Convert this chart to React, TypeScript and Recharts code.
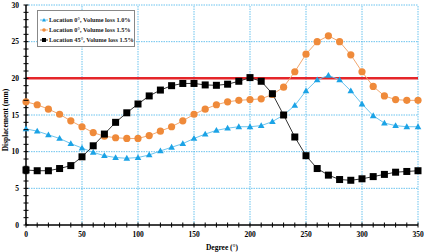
import { LineChart, Line, XAxis, YAxis, ReferenceLine } from 'recharts'

const degrees = [
  0, 10, 20, 30, 40, 50, 60, 70, 80, 90, 100, 110, 120, 130, 140, 150, 160, 170,
  180, 190, 200, 210, 220, 230, 240, 250, 260, 270, 280, 290, 300, 310, 320, 330, 340, 350,
]

// Location 0°, Volume loss 1.0%
const loc0vl10 = [
  13.1, 12.8, 12.3, 11.8, 11.1, 10.5, 9.9, 9.45, 9.2, 9.1, 9.2, 9.55, 10.1, 10.6, 11.1, 11.8, 12.4, 12.9,
  13.2, 13.4, 13.4, 13.55, 14.1, 15.0, 16.3, 18.3, 19.8, 20.4, 19.8, 18.3, 16.5, 14.9, 13.9, 13.55, 13.4, 13.4,
]

// Location 0°, Volume loss 1.5%
const loc0vl15 = [
  16.8, 16.4, 15.8, 15.1, 14.2, 13.4, 12.6, 12.1, 11.9, 11.8, 11.8, 12.2, 12.8, 13.4, 14.2, 15.1, 15.8, 16.4,
  16.8, 17.0, 17.1, 17.2, 17.8, 18.8, 20.9, 23.3, 25.0, 25.8, 25.0, 23.2, 20.9, 18.9, 17.6, 17.1, 17.0, 17.0,
]

// Location 45°, Volume loss 1.5%
const loc45vl15 = [
  7.5, 7.4, 7.4, 7.7, 8.1, 9.3, 10.8, 12.4, 14.0, 15.3, 16.5, 17.6, 18.4, 19.0, 19.3, 19.3, 19.1, 19.05,
  19.2, 19.6, 20.1, 19.6, 17.9, 15.0, 12.0, 9.45, 7.7, 6.8, 6.2, 6.1, 6.3, 6.6, 6.9, 7.2, 7.3, 7.4,
]

const xTicks = degrees
const yTicks = Array.from({ length: 31 }, (_, i) => i)
const xGrid = [50, 100, 150, 200, 250, 300, 350]
const yGrid = [5, 10, 15, 20, 25, 30]
const limit = 20

const BLUE = '#1ba3e6'
const ORANGE = '#ef8a3a'
const FONT = '"Liberation Serif", "DejaVu Serif", serif'

const data = degrees.map((d, i) => ({
  deg: d,
  a: loc0vl10[i],
  b: loc0vl15[i],
  c: loc45vl15[i],
}))

function XTick({ x, y, payload }: any) {
  const v = payload.value
  return (
    <g>
      <line x1={x} x2={x} y1={y - 2.5} y2={y + 2.5} stroke="#000" strokeWidth={1} />
      {v % 50 === 0 && (
        <text x={x} y={y + 12} textAnchor="middle" fontSize={7.5} fontWeight="bold" fontFamily={FONT} fill="#000">
          {v}
        </text>
      )}
    </g>
  )
}

function YTick({ x, y, payload }: any) {
  const v = payload.value
  return (
    <g>
      <line x1={x - 2.5} x2={x + 2.5} y1={y} y2={y} stroke="#000" strokeWidth={1} />
      {v % 5 === 0 && (
        <text x={x - 7} y={y + 2.5} textAnchor="end" fontSize={7.5} fontWeight="bold" fontFamily={FONT} fill="#000">
          {v}
        </text>
      )}
    </g>
  )
}

function Triangle({ cx, cy, index }: any) {
  if (cx == null || cy == null) return null
  return <path key={index} d={`M${cx},${cy - 3.4}L${cx + 3.3},${cy + 2.4}L${cx - 3.3},${cy + 2.4}Z`} fill={BLUE} />
}

function Circle({ cx, cy, index }: any) {
  if (cx == null || cy == null) return null
  return <circle key={index} cx={cx} cy={cy} r={3.6} fill={ORANGE} />
}

function Square({ cx, cy, index }: any) {
  if (cx == null || cy == null) return null
  return <rect key={index} x={cx - 3.5} y={cy - 3.5} width={7} height={7} fill="#000" />
}

function YLabel({ viewBox }: any) {
  const x = viewBox.x + 5
  const y = 120
  return (
    <text x={x} y={y} transform={`rotate(-90, ${x}, ${y})`} textAnchor="middle" dominantBaseline="central"
      fontSize={7.5} fontWeight="bold" fontFamily={FONT} fill="#000">
      Displacement (mm)
    </text>
  )
}

const legendItems = [
  { label: 'Location 0°, Volume loss 1.0%', color: '#6cc4ee', marker: 'tri' },
  { label: 'Location 0°, Volume loss 1.5%', color: '#f2a870', marker: 'circ' },
  { label: 'Location 45°, Volume loss 1.5%', color: '#333', marker: 'sq' },
]

function ChartLegend() {
  return (
    <svg width={98} height={37} style={{ position: 'absolute', left: 37, top: 10 }}>
      <rect x={0.5} y={0.5} width={97} height={36} fill="#fff" stroke="#888" />
      {legendItems.map((it, i) => {
        const y = 10 + i * 10
        return (
          <g key={it.label}>
            <line x1={3} x2={11} y1={y} y2={y} stroke={it.color} strokeWidth={1} />
            {it.marker === 'tri' && <path d={`M7,${y - 2}L9,${y + 1.5}L5,${y + 1.5}Z`} fill={BLUE} />}
            {it.marker === 'circ' && <circle cx={7} cy={y} r={1.8} fill={ORANGE} />}
            {it.marker === 'sq' && <rect x={5} y={y - 2} width={4} height={4} fill="#000" />}
            <text x={12} y={y + 2.2} fontSize={6.3} fontWeight="bold" fontFamily={FONT} fill="#222">
              {it.label}
            </text>
          </g>
        )
      })}
    </svg>
  )
}

export default function App() {
  return (
    <div style={{ position: 'absolute', left: 0, top: 0, width: 424, height: 252, background: '#fff' }}>
      <LineChart width={424} height={252} data={data} margin={{ top: 5, right: 6, left: 0, bottom: 0 }}>
        {xGrid.map((v) => (
          <ReferenceLine key={`gx${v}`} x={v} stroke="#45b4ea" strokeWidth={0.8} strokeDasharray="1.5 1" ifOverflow="extendDomain" />
        ))}
        {yGrid.map((v) => (
          <ReferenceLine key={`gy${v}`} y={v} stroke="#45b4ea" strokeWidth={0.8} strokeDasharray="1.5 1" />
        ))}
        <XAxis
          dataKey="deg"
          type="number"
          domain={[0, 350]}
          ticks={xTicks}
          interval={0}
          tick={<XTick />}
          tickLine={false}
          tickSize={0}
          tickMargin={0}
          height={27}
          axisLine={{ stroke: '#000', strokeWidth: 1.5 }}
          label={{ value: 'Degree (°)', position: 'insideBottom', offset: 2, fontSize: 7.5, fontWeight: 'bold', fontFamily: FONT, fill: '#000' }}
        />
        <YAxis
          type="number"
          domain={[0, 30]}
          ticks={yTicks}
          interval={0}
          tick={<YTick />}
          tickLine={false}
          tickSize={0}
          tickMargin={0}
          width={26}
          axisLine={{ stroke: '#000', strokeWidth: 1.5 }}
          label={{ content: <YLabel /> }}
        />
        <ReferenceLine y={limit} stroke="#e5262a" strokeWidth={2.5} />
        <Line type="linear" dataKey="a" stroke="#6cc4ee" strokeWidth={1} dot={<Triangle />} activeDot={false} isAnimationActive={false} />
        <Line type="linear" dataKey="b" stroke="#f2a870" strokeWidth={1} dot={<Circle />} activeDot={false} isAnimationActive={false} />
        <Line type="linear" dataKey="c" stroke="#333" strokeWidth={1} dot={<Square />} activeDot={false} isAnimationActive={false} />
      </LineChart>
      <ChartLegend />
    </div>
  )
}
